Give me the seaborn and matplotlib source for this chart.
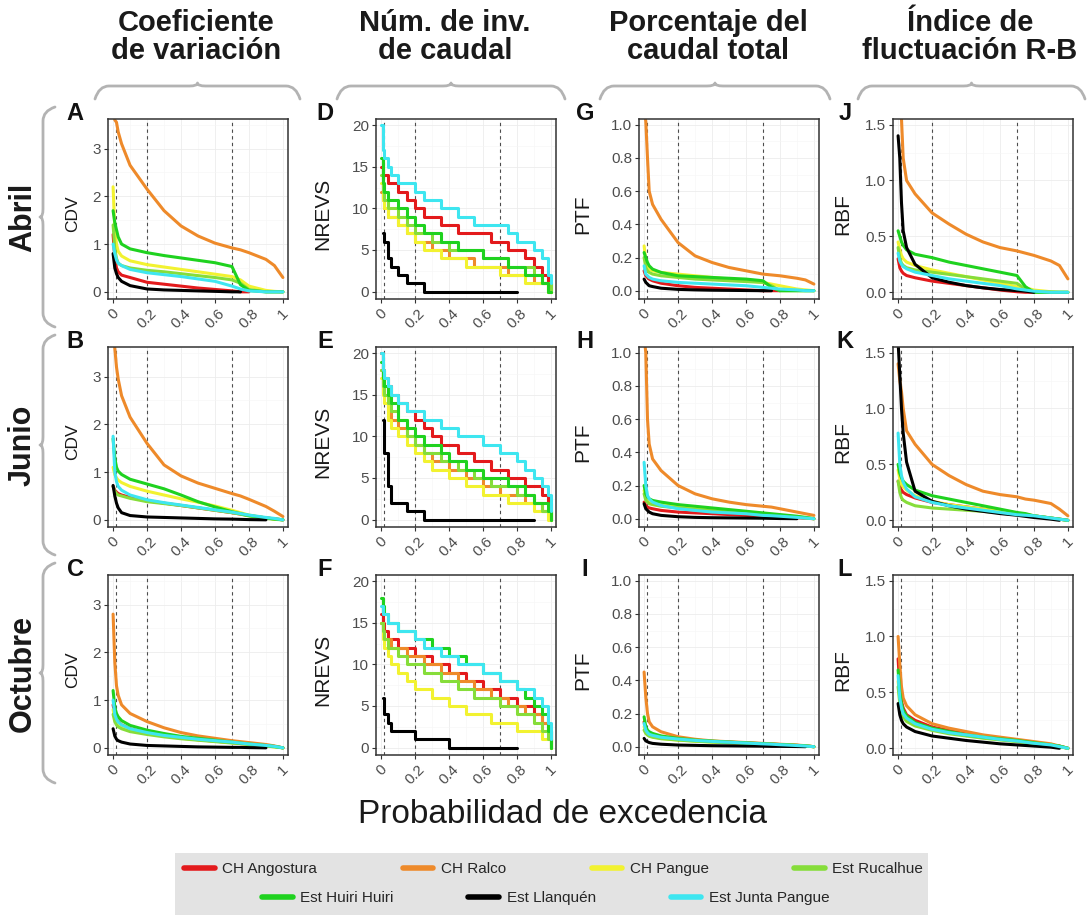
import numpy as np
import pandas as pd
import matplotlib
matplotlib.use('Agg')
import matplotlib.pyplot as plt
import seaborn as sns
from matplotlib.path import Path
from matplotlib.patches import PathPatch, Rectangle
from matplotlib.lines import Line2D

nan = np.nan

# %% data
series = ['CH Angostura', 'CH Ralco', 'CH Pangue', 'Est Rucalhue',
          'Est Huiri Huiri', 'Est Llanquén', 'Est Junta Pangue']
colors = ['#e31a1c', '#ee8a2a', '#f2f230', '#86dd3a', '#1fd21f', '#000000', '#3ee6f0']
months = ['Abril', 'Junio', 'Octubre']
headers = ['Coeficiente\nde variación', 'Núm. de inv.\nde caudal',
           'Porcentaje del\ncaudal total', 'Índice de\nfluctuación R-B']
ylabels = ['CDV', 'NREVS', 'PTF', 'RBF']
letters = 'ABCDEFGHIJKL'
ref_lines = [0.02, 0.2, 0.7]
xtick_labels = ['0', '0.2', '0.4', '0.6', '0.8', '1']

# probability of exceedance grids
prob = [0, 0.01, 0.02, 0.03, 0.05, 0.1, 0.2, 0.3, 0.4, 0.5, 0.6, 0.7, 0.75, 0.8, 0.9, 0.95, 1.0]
prob_steps = [0, 0.01, 0.02, 0.04, 0.06, 0.1, 0.15, 0.2, 0.25, 0.3, 0.35, 0.4, 0.45,
              0.5, 0.55, 0.6, 0.65, 0.7, 0.75, 0.8, 0.85, 0.9, 0.95, 0.98, 1.0]

# CDV
cdv_abril = {
    'CH Angostura': [1.2, 0.7, 0.5, 0.42, 0.35, 0.3, 0.2, 0.16, 0.12, 0.08, 0.05, 0.02, 0.0, 0.0, nan, nan, nan],
    'CH Ralco': [4.0, 3.6, 3.55, 3.35, 3.1, 2.65, 2.15, 1.7, 1.38, 1.17, 1.02, 0.92, 0.88, 0.82, 0.68, 0.55, 0.3],
    'CH Pangue': [2.2, 1.3, 1.0, 0.85, 0.75, 0.65, 0.57, 0.52, 0.47, 0.42, 0.37, 0.32, 0.25, 0.12, 0.03, 0.01, 0.0],
    'Est Rucalhue': [1.4, 0.9, 0.7, 0.6, 0.55, 0.5, 0.45, 0.42, 0.38, 0.34, 0.3, 0.25, 0.18, 0.05, 0.0, 0.0, 0.0],
    'Est Huiri Huiri': [1.7, 1.45, 1.3, 1.15, 1.0, 0.9, 0.82, 0.76, 0.71, 0.66, 0.61, 0.53, 0.15, 0.03, 0.0, 0.0, 0.0],
    'Est Llanquén': [0.8, 0.5, 0.38, 0.3, 0.22, 0.13, 0.06, 0.04, 0.03, 0.02, 0.01, 0.0, 0.0, nan, nan, nan, nan],
    'Est Junta Pangue': [1.0, 0.8, 0.67, 0.6, 0.55, 0.47, 0.4, 0.36, 0.32, 0.27, 0.22, 0.12, 0.06, 0.02, 0.0, 0.0, 0.0],
}
cdv_junio = {
    'CH Angostura': [0.7, 0.62, 0.58, 0.55, 0.52, 0.47, 0.4, 0.35, 0.3, 0.25, 0.2, 0.15, 0.12, 0.09, 0.04, 0.02, 0.0],
    'CH Ralco': [4.0, 3.6, 3.2, 2.95, 2.6, 2.15, 1.6, 1.15, 0.92, 0.77, 0.66, 0.55, 0.5, 0.43, 0.28, 0.18, 0.07],
    'CH Pangue': [1.1, 0.95, 0.88, 0.83, 0.78, 0.7, 0.6, 0.52, 0.44, 0.37, 0.29, 0.2, 0.15, 0.1, 0.04, 0.02, 0.0],
    'Est Rucalhue': [0.7, 0.6, 0.55, 0.52, 0.5, 0.45, 0.38, 0.34, 0.3, 0.25, 0.2, 0.15, 0.12, 0.08, 0.03, 0.01, 0.0],
    'Est Huiri Huiri': [1.7, 1.3, 1.1, 1.02, 0.95, 0.85, 0.75, 0.65, 0.52, 0.38, 0.27, 0.17, 0.13, 0.09, 0.04, 0.02, 0.0],
    'Est Llanquén': [0.72, 0.5, 0.35, 0.25, 0.15, 0.09, 0.06, 0.05, 0.04, 0.03, 0.02, 0.015, 0.01, 0.005, 0.0, nan, nan],
    'Est Junta Pangue': [1.75, 1.0, 0.8, 0.7, 0.62, 0.52, 0.42, 0.36, 0.31, 0.26, 0.21, 0.16, 0.13, 0.1, 0.05, 0.03, 0.0],
}
cdv_octubre = {
    'CH Angostura': [0.9, 0.7, 0.6, 0.55, 0.48, 0.4, 0.32, 0.26, 0.21, 0.17, 0.14, 0.11, 0.09, 0.08, 0.05, 0.03, 0.0],
    'CH Ralco': [2.8, 1.8, 1.3, 1.1, 0.9, 0.72, 0.55, 0.42, 0.32, 0.25, 0.2, 0.15, 0.13, 0.11, 0.07, 0.04, 0.0],
    'CH Pangue': [0.8, 0.6, 0.52, 0.47, 0.42, 0.36, 0.3, 0.25, 0.2, 0.17, 0.14, 0.11, 0.09, 0.07, 0.04, 0.02, 0.0],
    'Est Rucalhue': [0.7, 0.55, 0.48, 0.44, 0.4, 0.34, 0.28, 0.23, 0.19, 0.16, 0.13, 0.1, 0.09, 0.07, 0.04, 0.02, 0.0],
    'Est Huiri Huiri': [1.2, 0.85, 0.72, 0.65, 0.57, 0.47, 0.37, 0.3, 0.24, 0.2, 0.16, 0.12, 0.1, 0.08, 0.05, 0.03, 0.0],
    'Est Llanquén': [0.4, 0.25, 0.18, 0.15, 0.12, 0.08, 0.05, 0.04, 0.03, 0.02, 0.015, 0.01, 0.01, 0.005, 0.0, nan, nan],
    'Est Junta Pangue': [1.0, 0.7, 0.6, 0.54, 0.48, 0.4, 0.32, 0.26, 0.22, 0.18, 0.15, 0.12, 0.1, 0.08, 0.05, 0.03, 0.0],
}

# NREVS (step curves)
nrevs_abril = {
    'CH Angostura': [15, 14, 14, 13, 13, 12, 11, 10, 9, 9, 8, 8, 7, 7, 7, 7, 6, 6, 5, 5, 4, 3, 2, 1, 0],
    'CH Ralco': [12, 11, 10, 9, 9, 8, 7, 6, 6, 5, 5, 4, 4, 4, 3, 3, 3, 3, 2, 2, 2, 1, 1, 0, 0],
    'CH Pangue': [13, 11, 10, 9, 9, 8, 7, 6, 5, 5, 4, 4, 4, 3, 3, 3, 3, 2, 2, 2, 1, 1, 1, 0, 0],
    'Est Rucalhue': [14, 12, 11, 10, 10, 9, 8, 7, 7, 6, 6, 5, 5, 5, 5, 4, 4, 4, 3, 3, 3, 2, 1, 1, 0],
    'Est Huiri Huiri': [16, 13, 12, 11, 11, 10, 9, 8, 7, 7, 6, 6, 5, 5, 5, 4, 4, 4, 3, 3, 2, 2, 1, 0, 0],
    'Est Llanquén': [nan, 7, 6, 4, 3, 2, 1, 1, 0, 0, 0, 0, 0, 0, 0, 0, 0, 0, 0, 0, nan, nan, nan, nan, nan],
    'Est Junta Pangue': [20, 17, 16, 15, 14, 13, 13, 12, 11, 11, 10, 10, 9, 9, 8, 8, 8, 8, 7, 6, 6, 5, 4, 2, 1],
}
nrevs_junio = {
    'CH Angostura': [20, 18, 17, 16, 15, 14, 13, 12, 11, 10, 9, 9, 8, 8, 7, 7, 6, 6, 5, 5, 4, 4, 3, 2, 0],
    'CH Ralco': [18, 16, 15, 13, 12, 11, 10, 9, 8, 7, 7, 6, 6, 5, 5, 4, 4, 3, 3, 3, 2, 2, 1, 1, 0],
    'CH Pangue': [17, 15, 14, 12, 11, 10, 9, 8, 7, 6, 6, 5, 5, 4, 4, 3, 3, 3, 2, 2, 2, 1, 1, 0, 0],
    'Est Rucalhue': [18, 16, 15, 14, 13, 12, 10, 9, 8, 8, 7, 7, 6, 6, 5, 5, 4, 4, 4, 3, 3, 2, 1, 1, 0],
    'Est Huiri Huiri': [19, 17, 16, 15, 14, 12, 11, 10, 9, 9, 8, 7, 7, 6, 6, 5, 5, 5, 4, 4, 3, 2, 2, 1, 0],
    'Est Llanquén': [nan, 12, 8, 4, 2, 2, 1, 1, 0, 0, 0, 0, 0, 0, 0, 0, 0, 0, 0, 0, 0, 0, nan, nan, nan],
    'Est Junta Pangue': [20, 18, 17, 16, 15, 14, 13, 13, 12, 12, 11, 11, 10, 10, 10, 9, 9, 8, 8, 7, 6, 5, 4, 3, 1],
}
nrevs_octubre = {
    'CH Angostura': [16, 15, 14, 13, 13, 12, 12, 11, 11, 10, 10, 9, 9, 8, 8, 7, 7, 6, 6, 5, 5, 4, 3, 2, 0],
    'CH Ralco': [15, 14, 13, 13, 12, 12, 11, 11, 10, 10, 9, 9, 8, 8, 7, 7, 6, 6, 5, 5, 4, 4, 3, 2, 0],
    'CH Pangue': [15, 13, 12, 11, 10, 9, 8, 7, 7, 6, 6, 5, 5, 4, 4, 4, 3, 3, 3, 2, 2, 2, 1, 1, 0],
    'Est Rucalhue': [15, 14, 13, 12, 12, 11, 10, 10, 9, 9, 8, 8, 7, 7, 6, 6, 6, 5, 5, 4, 4, 3, 2, 1, 0],
    'Est Huiri Huiri': [18, 17, 16, 15, 15, 14, 14, 13, 13, 12, 12, 11, 11, 10, 10, 9, 9, 8, 8, 7, 6, 5, 4, 2, 0],
    'Est Llanquén': [nan, 6, 4, 3, 2, 2, 2, 1, 1, 1, 1, 0, 0, 0, 0, 0, 0, 0, 0, 0, nan, nan, nan, nan, nan],
    'Est Junta Pangue': [17, 16, 16, 15, 15, 14, 14, 13, 12, 12, 11, 11, 10, 10, 10, 9, 9, 8, 8, 7, 7, 6, 5, 3, 1],
}

# PTF
ptf_abril = {
    'CH Angostura': [0.12, 0.09, 0.08, 0.07, 0.06, 0.045, 0.03, 0.02, 0.015, 0.01, 0.005, 0.0, 0.0, 0.0, nan, nan, nan],
    'CH Ralco': [1.1, 1.02, 0.8, 0.6, 0.52, 0.43, 0.29, 0.21, 0.17, 0.14, 0.12, 0.1, 0.095, 0.09, 0.075, 0.065, 0.04],
    'CH Pangue': [0.27, 0.18, 0.15, 0.13, 0.12, 0.11, 0.1, 0.09, 0.08, 0.07, 0.06, 0.05, 0.04, 0.03, 0.01, 0.005, 0.0],
    'Est Rucalhue': [0.2, 0.14, 0.12, 0.11, 0.1, 0.09, 0.08, 0.07, 0.065, 0.06, 0.055, 0.05, 0.03, 0.0, 0.0, 0.0, 0.0],
    'Est Huiri Huiri': [0.23, 0.2, 0.17, 0.15, 0.13, 0.11, 0.09, 0.085, 0.08, 0.075, 0.07, 0.06, 0.02, 0.0, 0.0, 0.0, 0.0],
    'Est Llanquén': [0.07, 0.05, 0.04, 0.03, 0.025, 0.015, 0.008, 0.005, 0.003, 0.002, 0.001, 0.0, 0.0, nan, nan, nan, nan],
    'Est Junta Pangue': [0.15, 0.1, 0.09, 0.08, 0.07, 0.06, 0.05, 0.045, 0.04, 0.035, 0.03, 0.02, 0.015, 0.01, 0.005, 0.0, 0.0],
}
ptf_junio = {
    'CH Angostura': [0.1, 0.08, 0.07, 0.065, 0.06, 0.05, 0.04, 0.035, 0.03, 0.025, 0.02, 0.015, 0.012, 0.01, 0.006, 0.003, 0.0],
    'CH Ralco': [1.1, 1.0, 0.6, 0.45, 0.36, 0.29, 0.2, 0.15, 0.12, 0.1, 0.085, 0.075, 0.07, 0.06, 0.04, 0.03, 0.02],
    'CH Pangue': [0.17, 0.13, 0.11, 0.1, 0.095, 0.085, 0.07, 0.06, 0.05, 0.042, 0.035, 0.028, 0.024, 0.02, 0.012, 0.006, 0.0],
    'Est Rucalhue': [0.15, 0.11, 0.1, 0.09, 0.085, 0.075, 0.065, 0.055, 0.048, 0.04, 0.033, 0.025, 0.02, 0.017, 0.01, 0.005, 0.0],
    'Est Huiri Huiri': [0.2, 0.15, 0.13, 0.12, 0.11, 0.1, 0.085, 0.075, 0.065, 0.055, 0.045, 0.035, 0.03, 0.025, 0.015, 0.008, 0.0],
    'Est Llanquén': [0.09, 0.06, 0.05, 0.04, 0.03, 0.02, 0.012, 0.008, 0.006, 0.005, 0.004, 0.003, 0.002, 0.001, 0.0, nan, nan],
    'Est Junta Pangue': [0.34, 0.2, 0.14, 0.12, 0.1, 0.08, 0.06, 0.05, 0.04, 0.035, 0.03, 0.02, 0.018, 0.015, 0.008, 0.004, 0.0],
}
ptf_octubre = {
    'CH Angostura': [0.15, 0.1, 0.08, 0.07, 0.065, 0.055, 0.045, 0.038, 0.032, 0.027, 0.022, 0.018, 0.015, 0.013, 0.008, 0.005, 0.0],
    'CH Ralco': [0.45, 0.3, 0.2, 0.15, 0.12, 0.09, 0.06, 0.045, 0.035, 0.03, 0.025, 0.02, 0.018, 0.015, 0.01, 0.006, 0.0],
    'CH Pangue': [0.12, 0.09, 0.075, 0.068, 0.06, 0.05, 0.04, 0.034, 0.028, 0.024, 0.02, 0.016, 0.014, 0.012, 0.007, 0.004, 0.0],
    'Est Rucalhue': [0.1, 0.08, 0.07, 0.063, 0.057, 0.048, 0.04, 0.033, 0.028, 0.023, 0.019, 0.015, 0.013, 0.011, 0.007, 0.004, 0.0],
    'Est Huiri Huiri': [0.18, 0.12, 0.1, 0.09, 0.08, 0.065, 0.05, 0.04, 0.034, 0.028, 0.023, 0.018, 0.016, 0.013, 0.008, 0.005, 0.0],
    'Est Llanquén': [0.05, 0.035, 0.03, 0.025, 0.02, 0.015, 0.01, 0.008, 0.006, 0.005, 0.004, 0.003, 0.002, 0.002, 0.001, 0.0, nan],
    'Est Junta Pangue': [0.14, 0.1, 0.085, 0.075, 0.068, 0.057, 0.046, 0.038, 0.032, 0.027, 0.022, 0.017, 0.015, 0.012, 0.007, 0.004, 0.0],
}

# RBF
rbf_abril = {
    'CH Angostura': [0.3, 0.22, 0.19, 0.17, 0.15, 0.13, 0.1, 0.08, 0.06, 0.04, 0.02, 0.005, 0.0, 0.0, nan, nan, nan],
    'CH Ralco': [1.8, 1.7, 1.55, 1.2, 1.0, 0.88, 0.71, 0.61, 0.52, 0.45, 0.4, 0.37, 0.35, 0.33, 0.28, 0.24, 0.12],
    'CH Pangue': [0.45, 0.38, 0.33, 0.3, 0.27, 0.24, 0.2, 0.17, 0.14, 0.11, 0.08, 0.05, 0.04, 0.02, 0.005, 0.0, 0.0],
    'Est Rucalhue': [0.4, 0.3, 0.26, 0.24, 0.22, 0.2, 0.18, 0.16, 0.14, 0.12, 0.1, 0.08, 0.03, 0.0, 0.0, 0.0, 0.0],
    'Est Huiri Huiri': [0.55, 0.5, 0.45, 0.42, 0.38, 0.34, 0.31, 0.27, 0.24, 0.21, 0.18, 0.15, 0.05, 0.0, 0.0, 0.0, 0.0],
    'Est Llanquén': [1.4, 1.2, 0.8, 0.55, 0.4, 0.25, 0.13, 0.09, 0.06, 0.04, 0.025, 0.015, 0.01, 0.0, nan, nan, nan],
    'Est Junta Pangue': [0.35, 0.28, 0.25, 0.23, 0.21, 0.18, 0.15, 0.12, 0.1, 0.08, 0.06, 0.03, 0.02, 0.01, 0.0, 0.0, 0.0],
}
rbf_junio = {
    'CH Angostura': [0.35, 0.3, 0.27, 0.25, 0.23, 0.2, 0.16, 0.14, 0.12, 0.1, 0.08, 0.06, 0.05, 0.04, 0.02, 0.01, 0.0],
    'CH Ralco': [1.4, 1.25, 1.15, 1.0, 0.8, 0.68, 0.5, 0.4, 0.32, 0.26, 0.23, 0.21, 0.19, 0.18, 0.15, 0.1, 0.04],
    'CH Pangue': [0.45, 0.37, 0.32, 0.3, 0.27, 0.22, 0.17, 0.14, 0.12, 0.1, 0.08, 0.06, 0.05, 0.04, 0.02, 0.01, 0.0],
    'Est Rucalhue': [0.35, 0.25, 0.2, 0.18, 0.16, 0.13, 0.11, 0.1, 0.09, 0.08, 0.065, 0.05, 0.045, 0.04, 0.02, 0.01, 0.0],
    'Est Huiri Huiri': [0.5, 0.42, 0.38, 0.35, 0.32, 0.27, 0.22, 0.19, 0.16, 0.13, 0.1, 0.07, 0.06, 0.04, 0.02, 0.01, 0.0],
    'Est Llanquén': [1.6, 1.3, 1.0, 0.78, 0.52, 0.26, 0.17, 0.13, 0.1, 0.08, 0.06, 0.045, 0.035, 0.025, 0.01, 0.0, nan],
    'Est Junta Pangue': [0.78, 0.5, 0.4, 0.34, 0.28, 0.21, 0.16, 0.13, 0.11, 0.09, 0.07, 0.05, 0.045, 0.04, 0.02, 0.01, 0.0],
}
rbf_octubre = {
    'CH Angostura': [0.8, 0.55, 0.42, 0.36, 0.3, 0.25, 0.19, 0.16, 0.13, 0.11, 0.09, 0.07, 0.06, 0.05, 0.03, 0.02, 0.0],
    'CH Ralco': [1.0, 0.75, 0.55, 0.45, 0.38, 0.3, 0.22, 0.18, 0.15, 0.12, 0.1, 0.08, 0.07, 0.06, 0.04, 0.02, 0.0],
    'CH Pangue': [0.6, 0.45, 0.36, 0.3, 0.26, 0.21, 0.17, 0.14, 0.12, 0.1, 0.08, 0.06, 0.05, 0.045, 0.03, 0.015, 0.0],
    'Est Rucalhue': [0.55, 0.4, 0.32, 0.28, 0.24, 0.2, 0.16, 0.13, 0.11, 0.09, 0.075, 0.06, 0.05, 0.04, 0.025, 0.015, 0.0],
    'Est Huiri Huiri': [0.7, 0.5, 0.4, 0.34, 0.29, 0.23, 0.18, 0.15, 0.12, 0.1, 0.085, 0.07, 0.06, 0.05, 0.03, 0.02, 0.0],
    'Est Llanquén': [0.4, 0.3, 0.25, 0.22, 0.19, 0.15, 0.11, 0.09, 0.07, 0.055, 0.04, 0.03, 0.025, 0.02, 0.01, 0.0, nan],
    'Est Junta Pangue': [0.65, 0.45, 0.36, 0.31, 0.27, 0.22, 0.17, 0.14, 0.12, 0.1, 0.08, 0.065, 0.055, 0.045, 0.03, 0.015, 0.0],
}

panel_data = [
    [cdv_abril, nrevs_abril, ptf_abril, rbf_abril],
    [cdv_junio, nrevs_junio, ptf_junio, rbf_junio],
    [cdv_octubre, nrevs_octubre, ptf_octubre, rbf_octubre],
]

# axis settings per column
ylims = [(-0.15, 3.62), (-0.9, 20.75), (-0.05, 1.035), (-0.06, 1.55)]
yticks = [[0, 1, 2, 3], [0, 5, 10, 15, 20], [0, 0.2, 0.4, 0.6, 0.8, 1.0], [0, 0.5, 1.0, 1.5]]
yticklabels = [['0', '1', '2', '3'], ['0', '5', '10', '15', '20'],
               ['0.0', '0.2', '0.4', '0.6', '0.8', '1.0'], ['0.0', '0.5', '1.0', '1.5']]
yminor = [[0.5, 1.5, 2.5, 3.5], [2.5, 7.5, 12.5, 17.5], [0.1, 0.3, 0.5, 0.7, 0.9], [0.25, 0.75, 1.25]]

# %% layout (pixels)
W, H = 1090, 922
col_left = [108, 376, 639, 893]
row_top = [119, 347, 575]
PW, PH = 180, 180
label_x = [75, 325, 585, 845]
header_x = [196, 445, 708, 970]
hbrace_span = [(95, 300), (337, 565), (600, 830), (858, 1085)]


def fx(x):
    return x / W


def fy(y):
    return 1 - y / H


def to_long(values, x):
    rows = []
    for name in series:
        for p, v in zip(x, values[name]):
            rows.append((name, p, v))
    return pd.DataFrame(rows, columns=['serie', 'prob', 'valor']).dropna()


def brace(points, codes):
    verts = [(fx(a), fy(b)) for a, b in points]
    return PathPatch(Path(verts, codes), transform=fig.transFigure, fill=False,
                     edgecolor='#b3b3b3', lw=2.0, capstyle='round', joinstyle='round')


M, C3, L = Path.MOVETO, Path.CURVE3, Path.LINETO
brace_codes = [M, C3, C3, L, C3, C3, C3, C3, L, C3, C3]


def hbrace(x0, x1, y_line, y_end, r=14, tip=3):
    xm = (x0 + x1) / 2
    pts = [(x0, y_end), (x0 + 4, y_line), (x0 + r, y_line), (xm - 8, y_line),
           (xm, y_line), (xm, y_line - tip), (xm, y_line), (xm + 8, y_line),
           (x1 - r, y_line), (x1 - 4, y_line), (x1, y_end)]
    return brace(pts, brace_codes)


def vbrace(y0, y1, x_line, x_end, r=14, tip=3):
    ym = (y0 + y1) / 2
    pts = [(x_end, y0), (x_line, y0 + 4), (x_line, y0 + r), (x_line, ym - 8),
           (x_line, ym), (x_line - tip, ym), (x_line, ym), (x_line, ym + 8),
           (x_line, y1 - r), (x_line, y1 - 4), (x_end, y1)]
    return brace(pts, brace_codes)


# %% figure
sns.set_theme(style='white')
plt.rcParams['font.family'] = ['Liberation Sans', 'DejaVu Sans']
palette = dict(zip(series, colors))

fig = plt.figure(figsize=(W / 100, H / 100), dpi=100)

for r in range(3):
    for c in range(4):
        ax = fig.add_axes([fx(col_left[c]), fy(row_top[r] + PH), PW / W, PH / H])
        step = (c == 1)
        df = to_long(panel_data[r][c], prob_steps if step else prob)
        for xr in ref_lines:
            ax.axvline(xr, color='#4d4d4d', lw=0.8, ls=(0, (3, 3)), zorder=1.5)
        sns.lineplot(data=df, x='prob', y='valor', hue='serie', hue_order=series,
                     palette=palette, estimator=None, sort=False, legend=False,
                     lw=2.2, ax=ax, drawstyle='steps-post' if step else 'default')
        ax.set_xlim(-0.03, 1.03)
        ax.set_ylim(*ylims[c])
        ax.set_xticks([0, 0.2, 0.4, 0.6, 0.8, 1.0])
        ax.set_xticklabels(xtick_labels, rotation=45, ha='center')
        ax.set_xticks([0.1, 0.3, 0.5, 0.7, 0.9], minor=True)
        ax.set_yticks(yticks[c])
        ax.set_yticklabels(yticklabels[c])
        ax.set_yticks(yminor[c], minor=True)
        ax.tick_params(which='major', direction='out', length=3, width=0.8, color='#333333',
                       labelcolor='#4d4d4d', labelsize=11, pad=2, bottom=True, left=True)
        ax.tick_params(which='minor', length=0)
        ax.grid(True, which='major', color='#ececec', lw=0.6, zorder=0)
        ax.grid(True, which='minor', color='#f6f6f6', lw=0.4, zorder=0)
        ax.set_axisbelow(True)
        for s in ax.spines.values():
            s.set_color('#333333')
            s.set_linewidth(1.1)
        ax.set_xlabel('')
        ax.set_ylabel('')

        # panel letter and y label
        fig.text(fx(label_x[c]), fy(row_top[r] - 6), letters[c * 3 + r], ha='center',
                 va='center', fontsize=17, fontweight='bold', color='#111111')
        fig.text(fx(label_x[c] - 2), fy(row_top[r] + PH / 2 + 5), ylabels[c], rotation=90,
                 ha='center', va='center', fontsize=12.5 if c == 0 else 15, color='#1a1a1a')

# column headers and braces
for c in range(4):
    fig.text(fx(header_x[c]), fy(37), headers[c], ha='center', va='center', fontsize=21,
             fontweight='bold', linespacing=1.0, color='#1a1a1a')
    x0, x1 = hbrace_span[c]
    fig.add_artist(hbrace(x0, x1, 86, 99))

# row labels and braces
for r in range(3):
    y0, y1 = row_top[r] - 12, row_top[r] + PH + 28
    fig.add_artist(vbrace(y0, y1, 43, 55))
    fig.text(fx(23), fy((y0 + y1) / 2), months[r], rotation=90, ha='center', va='center',
             fontsize=22, fontweight='bold', color='#1a1a1a')

fig.text(fx(563), fy(814), 'Probabilidad de excedencia', ha='center', va='center',
         fontsize=24, color='#1a1a1a')

# legend
fig.add_artist(Rectangle((fx(175), fy(915)), (928 - 175) / W, (915 - 853) / H,
                         transform=fig.transFigure, facecolor='#e3e3e3', edgecolor='none', zorder=0))
handles = [Line2D([], [], color=col, lw=4) for col in colors]
fig.legend(handles[:4], series[:4], ncol=4, loc='center left', bbox_to_anchor=(fx(184), fy(869)),
           frameon=False, fontsize=11, handlelength=2.0, handletextpad=0.5,
           columnspacing=5.6, borderpad=0, borderaxespad=0)
fig.legend(handles[4:], series[4:], ncol=3, loc='center left', bbox_to_anchor=(fx(262), fy(898)),
           frameon=False, fontsize=11, handlelength=2.0, handletextpad=0.5,
           columnspacing=4.9, borderpad=0, borderaxespad=0)

fig.savefig('out.png', dpi=100)
